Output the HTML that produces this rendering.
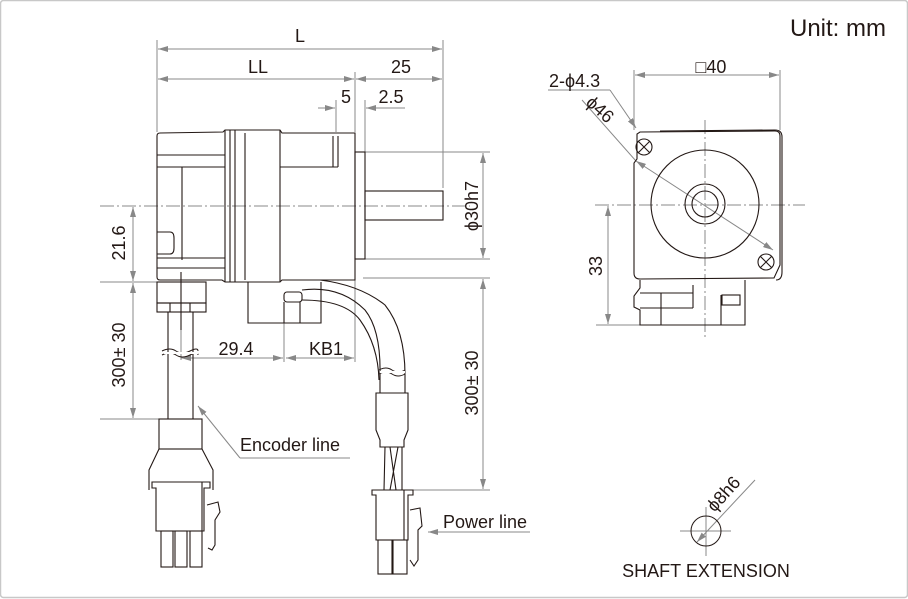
<!DOCTYPE html>
<html><head><meta charset="utf-8"><style>
html,body{margin:0;padding:0;background:#fff;}
svg{display:block;}
text{font-family:"Liberation Sans",sans-serif;fill:#231815;}
</style></head><body>
<svg width="908" height="599" viewBox="0 0 908 599" xmlns="http://www.w3.org/2000/svg">
<defs>
<marker id="a" viewBox="0 0 10 6" refX="10" refY="3" markerWidth="10" markerHeight="6" orient="auto-start-reverse" markerUnits="userSpaceOnUse"><path d="M0,0 L10,3 L0,6z" fill="#888"/></marker>
</defs>
<rect x="0.5" y="0.5" width="907" height="597" rx="3" fill="none" stroke="#c8c8c8" stroke-width="1.5"/>
<text x="886" y="36" font-size="24" text-anchor="end">Unit: mm</text>

<g stroke="#888" stroke-width="1" fill="none">
<line x1="157" y1="40" x2="157" y2="132"/>
<line x1="443" y1="40" x2="443" y2="188"/>
<line x1="355" y1="72" x2="355" y2="132"/>
<line x1="336" y1="100" x2="336" y2="132"/>
<line x1="365" y1="100" x2="365" y2="152"/>
<line x1="158" y1="49" x2="442" y2="49" marker-start="url(#a)" marker-end="url(#a)"/>
<line x1="158" y1="79" x2="354" y2="79" marker-start="url(#a)" marker-end="url(#a)"/>
<line x1="356" y1="79" x2="442" y2="79" marker-start="url(#a)" marker-end="url(#a)"/>
<line x1="318" y1="108" x2="335" y2="108" marker-end="url(#a)"/>
<line x1="405" y1="108" x2="366" y2="108" marker-end="url(#a)"/>
<line x1="100" y1="206" x2="470" y2="206" stroke-dasharray="14,3,2,3"/>
<line x1="100" y1="282" x2="160" y2="282"/>
<line x1="100" y1="419" x2="160" y2="419"/>
<line x1="133" y1="207" x2="133" y2="281" marker-start="url(#a)" marker-end="url(#a)"/>
<line x1="133" y1="283" x2="133" y2="418" marker-start="url(#a)" marker-end="url(#a)"/>
<line x1="181" y1="358" x2="283" y2="358" marker-start="url(#a)" marker-end="url(#a)"/>
<line x1="286" y1="358" x2="354" y2="358" marker-start="url(#a)" marker-end="url(#a)"/>
<line x1="284" y1="323" x2="284" y2="362"/>
<line x1="355" y1="280" x2="355" y2="362"/>
<line x1="181" y1="290" x2="181" y2="360"/>
<line x1="365" y1="152" x2="490" y2="152"/>
<line x1="365" y1="259" x2="490" y2="259"/>
<line x1="483" y1="153" x2="483" y2="258" marker-start="url(#a)" marker-end="url(#a)"/>
<line x1="363" y1="278" x2="490" y2="278"/>
<line x1="410" y1="490" x2="490" y2="490"/>
<line x1="483" y1="279" x2="483" y2="489" marker-start="url(#a)" marker-end="url(#a)"/>
<polyline points="350,458 240,458"/>
<line x1="240" y1="458" x2="198" y2="406" marker-end="url(#a)"/>
<line x1="530" y1="532" x2="428" y2="532" marker-end="url(#a)"/>
</g>
<g font-size="18">
<text x="300" y="42" text-anchor="middle">L</text>
<text x="258" y="73" text-anchor="middle">LL</text>
<text x="401" y="73" text-anchor="middle">25</text>
<text x="346" y="103" text-anchor="middle">5</text>
<text x="391" y="103" text-anchor="middle">2.5</text>
<text transform="translate(125,243) rotate(-90)" text-anchor="middle">21.6</text>
<text transform="translate(125,355) rotate(-90)" text-anchor="middle">300± 30</text>
<text x="236" y="355" text-anchor="middle">29.4</text>
<text x="326" y="355" text-anchor="middle">KB1</text>
<text transform="translate(478,206) rotate(-90)" text-anchor="middle">ϕ30h7</text>
<text transform="translate(478,383) rotate(-90)" text-anchor="middle">300± 30</text>
<text x="240" y="451">Encoder line</text>
<text x="443" y="528">Power line</text>
</g>

<g stroke="#231815" stroke-width="1.1" fill="none">
<path d="M160,133 L223,132 L225,130 L280,130 L282,133 L355,133 L355,280 L282,280 L280,282 L225,282 L222,280 L160,280 Q157,280 157,277 L157,136 Q157,133 160,133Z"/>
<line x1="157" y1="155" x2="225" y2="155"/>
<line x1="157" y1="167" x2="225" y2="167"/>
<line x1="225" y1="130" x2="225" y2="282"/>
<line x1="230" y1="130" x2="230" y2="282"/>
<line x1="235" y1="130" x2="235" y2="282"/>
<line x1="245" y1="133" x2="245" y2="280"/>
<line x1="280" y1="130" x2="280" y2="282"/>
<line x1="182" y1="167" x2="182" y2="260"/>
<line x1="157" y1="258" x2="225" y2="258"/>
<line x1="157" y1="268" x2="225" y2="268"/>
<path d="M157,232 L170,232 Q174,232 174,238 L174,248 Q174,254 170,254 L157,254"/>
<line x1="333" y1="136" x2="333" y2="167"/>
<line x1="338" y1="136" x2="338" y2="167"/>
<line x1="280" y1="167" x2="338" y2="167"/>
<rect x="355" y="152" width="10" height="107"/>
<rect x="365" y="191" width="78" height="29"/>
<path d="M248,282 L248,323 L321,323 L321,282"/>
<rect x="284" y="292" width="18" height="10" rx="3"/>
<line x1="284" y1="302" x2="284" y2="323"/>
<line x1="300" y1="302" x2="300" y2="323"/>
<path d="M302,290 Q340,285 365,310 Q381,330 380,375 L380,393"/>
<path d="M320,280 Q360,285 385,305 Q405,330 405,375 L405,393"/>
<path d="M302,300 Q345,300 360,320 Q378,345 379,380"/>
<path d="M376,393 L408,393 L408,430 L404,440 L404,447 L380,447 L380,440 L376,430Z"/>
<path d="M385,447 L384,490 M390,447 L396,490 M398,447 L390,490 M402,447 L402,490"/>
<path d="M372,490 L413,490 L413,495 L408,495 L408,540 L376,540 L376,495 L372,495Z"/>
<line x1="404" y1="490" x2="404" y2="540"/>
<rect x="378" y="540" width="14" height="34"/>
<rect x="393" y="540" width="14" height="34"/>
<path d="M410,510 L420,508 L422,526 L418,530 L418,560 L414,566 L410,560"/>
<rect x="157" y="282" width="49" height="21"/>
<rect x="157" y="303" width="49" height="9"/>
<line x1="170" y1="303" x2="170" y2="312"/>
<line x1="190" y1="303" x2="190" y2="312"/>
<line x1="181" y1="272" x2="181" y2="330"/>
<line x1="168" y1="312" x2="168" y2="419"/>
<line x1="193" y1="312" x2="193" y2="419"/>
<rect x="159" y="419" width="43" height="30"/>
<path d="M159,449 L149,470 L149,490 M202,449 L213,470 L213,490"/>
<path d="M152,482 L210,482 L210,488 L204,488 L204,531 L156,531 L156,488 L152,488Z"/>
<line x1="202" y1="482" x2="202" y2="531"/>
<rect x="161" y="531" width="12" height="36"/>
<rect x="175" y="531" width="12" height="36"/>
<rect x="190" y="531" width="12" height="36"/>
<path d="M207,505 L218,502 L220,512 L215,520 L215,545 L212,550 L208,548"/>
</g>
<g stroke="#231815" fill="none" stroke-width="1">
<path d="M162,351 q8,-4 14,0 t14,0 t8,0"/>
<path d="M162,355 q8,-4 14,0 t14,0 t8,0"/>
<path d="M379,370 q7,-4 13,0 t13,0"/>
<path d="M379,374 q7,-4 13,0 t13,0"/>
</g>
<rect x="164" y="352" width="34" height="2" fill="#fff"/>
<rect x="380" y="371" width="25" height="2" fill="#fff"/>

<g stroke="#888" stroke-width="1" fill="none">
<line x1="634" y1="70" x2="634" y2="130"/>
<line x1="780" y1="70" x2="780" y2="130"/>
<line x1="635" y1="75" x2="779" y2="75" marker-start="url(#a)" marker-end="url(#a)"/>
<polyline points="548,90 610,90"/>
<line x1="610" y1="90" x2="636" y2="128" marker-end="url(#a)"/>
<line x1="582" y1="100" x2="636" y2="161"/>
<line x1="636" y1="161" x2="773" y2="250" marker-start="url(#a)" marker-end="url(#a)"/>
<line x1="595" y1="205" x2="805" y2="205" stroke-dasharray="14,3,2,3"/>
<line x1="705" y1="120" x2="705" y2="340" stroke-dasharray="14,3,2,3"/>
<line x1="596" y1="325" x2="640" y2="325"/>
<line x1="608" y1="206" x2="608" y2="324" marker-start="url(#a)" marker-end="url(#a)"/>
</g>
<g stroke="#231815" stroke-width="1.1" fill="none">
<path d="M640,132 L775,131 Q780,131 780,136 L780,265 L774,278 L640,279 Q634,279 634,273 L634,163 L637,159 L637,134Z"/>
<path d="M660,131 L775,130 Q782,130 782,137 L782,272 Q782,280 776,280"/>
<circle cx="705" cy="204" r="54"/>
<circle cx="705" cy="204" r="20"/>
<circle cx="705" cy="204" r="13"/>
<circle cx="644" cy="147" r="8"/>
<circle cx="766" cy="262" r="8"/>
<path d="M638,141 l12,12 M650,141 l-12,12 M760,256 l12,12 M772,256 l-12,12"/>
<path d="M640,280 L640,288 L634,296 L634,307 L640,310 L640,325 L745,325 L745,280"/>
<line x1="661" y1="293" x2="661" y2="325"/>
<line x1="640" y1="293" x2="693" y2="293"/>
<line x1="693" y1="285" x2="693" y2="308"/>
<line x1="640" y1="308" x2="693" y2="308"/>
<rect x="722" y="295" width="18" height="10"/>
<line x1="721" y1="295" x2="721" y2="325"/>
</g>
<g font-size="18">
<text x="549" y="87">2-ϕ4.3</text>
<text transform="translate(596,114) rotate(42)" text-anchor="middle">ϕ46</text>
<text x="711" y="73" text-anchor="middle">□40</text>
<text transform="translate(602,266) rotate(-90)" text-anchor="middle">33</text>
</g>

<g stroke="#888" fill="none" stroke-width="1">
<line x1="680" y1="531" x2="731" y2="531"/>
<line x1="706" y1="507" x2="706" y2="556"/>
<line x1="697" y1="542" x2="755" y2="480" marker-start="url(#a)"/>
</g>
<circle cx="706" cy="531" r="15" fill="none" stroke="#231815"/>
<text transform="translate(728,498) rotate(-48)" font-size="18" text-anchor="middle">ϕ8h6</text>
<text x="706" y="577" font-size="18" text-anchor="middle">SHAFT EXTENSION</text>
</svg>
</body></html>
